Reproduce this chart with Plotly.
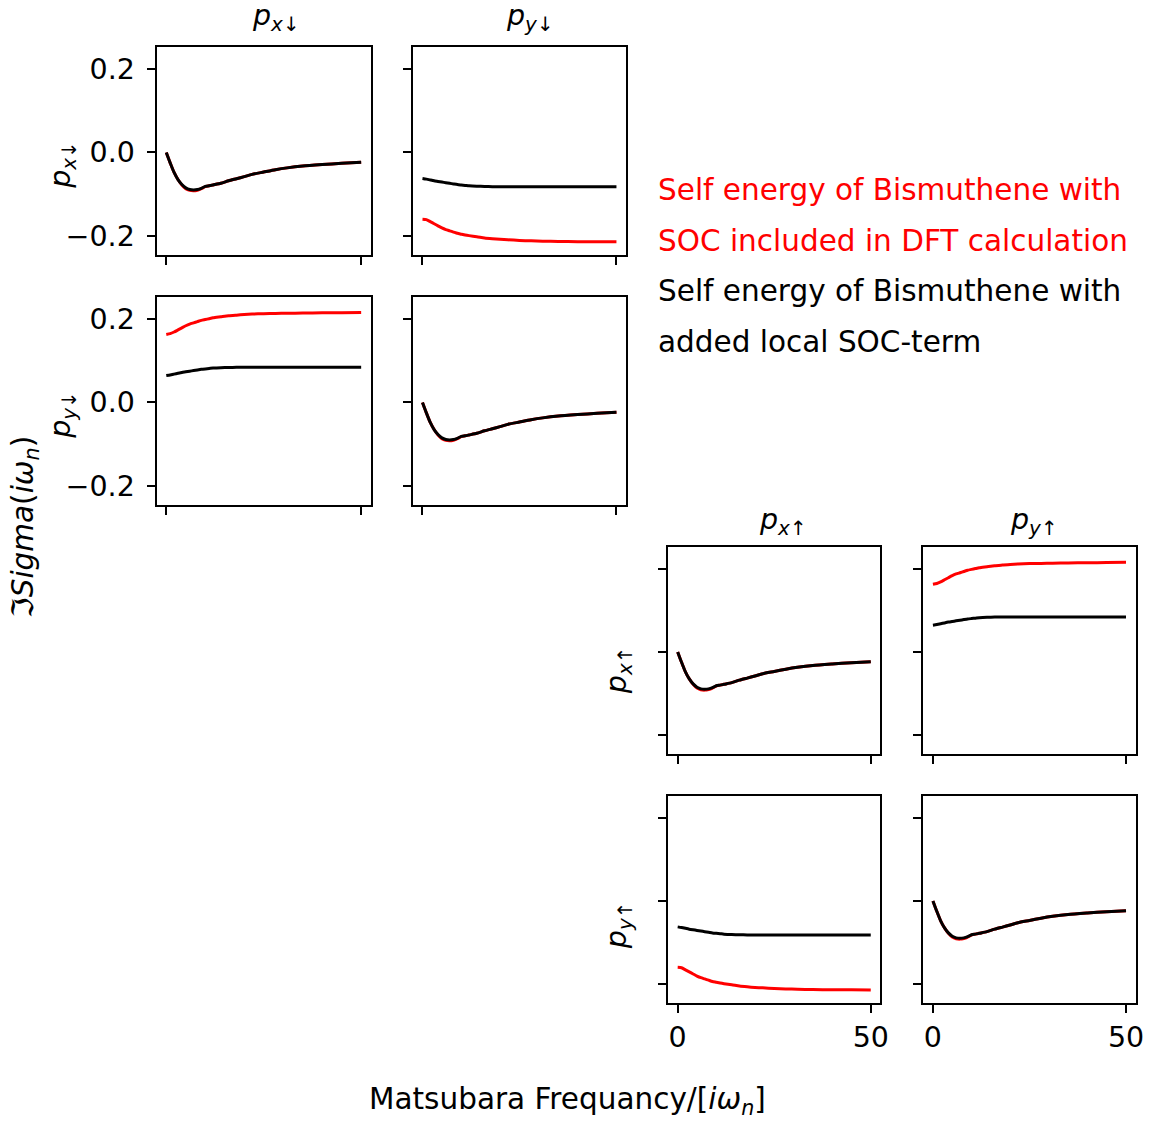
import plotly.graph_objects as go

# Matsubara frequency index
matsubara_n = [0, 1, 2, 3, 4, 5, 6, 7, 8, 9, 10, 11, 12, 14, 16, 18, 20, 22,
               25, 28, 31, 35, 40, 45, 50]

# Diagonal elements (p_x-p_x, p_y-p_y) of Im Sigma
diag_dft_soc = [0.000, -0.025, -0.048, -0.065, -0.078, -0.087, -0.091, -0.092,
                -0.0905, -0.087, -0.082, -0.080, -0.078, -0.074, -0.068, -0.063,
                -0.058, -0.0525, -0.047, -0.0415, -0.037, -0.0325, -0.029,
                -0.026, -0.0235]
diag_local_soc = [0.000, -0.025, -0.048, -0.065, -0.077, -0.085, -0.089, -0.090,
                  -0.089, -0.086, -0.0815, -0.080, -0.078, -0.074, -0.068, -0.063,
                  -0.058, -0.0525, -0.047, -0.0415, -0.037, -0.0325, -0.029,
                  -0.026, -0.0235]

# Off-diagonal elements with positive imaginary part
offdiag_pos_dft_soc = [0.163, 0.165, 0.169, 0.174, 0.179, 0.184, 0.188, 0.191,
                       0.194, 0.197, 0.199, 0.201, 0.203, 0.2055, 0.208, 0.2095,
                       0.211, 0.212, 0.213, 0.2135, 0.214, 0.2145, 0.215, 0.2155,
                       0.216]
offdiag_pos_local_soc = [0.0645, 0.066, 0.068, 0.070, 0.072, 0.0735, 0.075, 0.0765,
                         0.078, 0.0795, 0.0805, 0.0815, 0.0825, 0.0835, 0.084,
                         0.0843, 0.0845, 0.0845, 0.0845, 0.0845, 0.0845, 0.0845,
                         0.0845, 0.0845, 0.0845]

# Off-diagonal elements with negative imaginary part
offdiag_neg_dft_soc = [-0.160, -0.161, -0.166, -0.171, -0.176, -0.181, -0.185,
                       -0.188, -0.191, -0.194, -0.196, -0.198, -0.1995, -0.202,
                       -0.205, -0.207, -0.2085, -0.2095, -0.211, -0.212, -0.213,
                       -0.2135, -0.214, -0.2143, -0.2145]
offdiag_neg_local_soc = [-0.0625, -0.064, -0.066, -0.068, -0.0695, -0.071, -0.0725,
                         -0.074, -0.0755, -0.077, -0.078, -0.079, -0.080, -0.081,
                         -0.0815, -0.082, -0.082, -0.082, -0.082, -0.082, -0.082,
                         -0.082, -0.082, -0.082, -0.082]

y_tick_vals = [-0.2, 0.0, 0.2]
y_tick_text = ["\u22120.2", "0.0", "0.2"]
x_tick_vals = [0, 50]
x_tick_text = ["0", "50"]

orbital_down = ["<i>p</i><sub><i>x</i>\u2193</sub>", "<i>p</i><sub><i>y</i>\u2193</sub>"]
orbital_up = ["<i>p</i><sub><i>x</i>\u2191</sub>", "<i>p</i><sub><i>y</i>\u2191</sub>"]

W, H = 1158, 1122
XS = 1.004  # horizontal layout stretch
FONT = "DejaVu Sans"
FS = 28.5


def px_x(v):
    return v * XS / W


def px_y(v):
    return 1 - v / H


col_px = [(157, 372), (414, 628), (670, 883), (926, 1139)]
row_px = [(47, 255), (297, 505), (547, 754), (796, 1003)]

series = {
    "diag": (diag_dft_soc, diag_local_soc),
    "pos": (offdiag_pos_dft_soc, offdiag_pos_local_soc),
    "neg": (offdiag_neg_dft_soc, offdiag_neg_local_soc),
}

# (row, col, block kind)
panels = [
    (0, 0, "diag"), (0, 1, "neg"), (1, 0, "pos"), (1, 1, "diag"),
    (2, 2, "diag"), (2, 3, "pos"), (3, 2, "neg"), (3, 3, "diag"),
]

fig = go.Figure()
layout = {}
for i, (r, c, kind) in enumerate(panels, start=1):
    xa = "x" if i == 1 else f"x{i}"
    ya = "y" if i == 1 else f"y{i}"
    red_vals, black_vals = series[kind]
    fig.add_trace(go.Scatter(x=matsubara_n, y=red_vals, mode="lines",
                             line=dict(color="#ff0000", width=3, shape="spline", smoothing=0.6),
                             xaxis=xa, yaxis=ya, showlegend=False))
    fig.add_trace(go.Scatter(x=matsubara_n, y=black_vals, mode="lines",
                             line=dict(color="#000000", width=3, shape="spline", smoothing=0.6),
                             xaxis=xa, yaxis=ya, showlegend=False))
    x0, x1 = col_px[c]
    y0, y1 = row_px[r]
    common = dict(showline=True, linecolor="black", linewidth=2, mirror=True,
                  ticks="outside", ticklen=8, tickwidth=2, tickcolor="black",
                  showgrid=False, zeroline=False,
                  tickfont=dict(family=FONT, size=FS, color="black"))
    layout[f"xaxis{'' if i == 1 else i}"] = dict(
        common, domain=[px_x(x0), min(1.0, px_x(x1))], range=[-2.5, 52.5],
        anchor=ya, tickvals=x_tick_vals, ticktext=x_tick_text,
        showticklabels=(r == 3))
    layout[f"yaxis{'' if i == 1 else i}"] = dict(
        common, domain=[px_y(y1), px_y(y0)], range=[-0.246, 0.253],
        anchor=xa, tickvals=y_tick_vals, ticktext=y_tick_text,
        showticklabels=(c == 0), ticklabelstandoff=6)

annotations = []
font = dict(family=FONT, size=FS, color="black")

# column headings
col_title_x = [277, 532, 785, 1037]
for c, lbl in enumerate(orbital_down):
    annotations.append(dict(text=lbl, x=px_x(col_title_x[c]), y=px_y(18), xref="paper",
                            yref="paper", showarrow=False, font=font,
                            xanchor="center", yanchor="middle"))
for c, lbl in enumerate(orbital_up):
    annotations.append(dict(text=lbl, x=px_x(col_title_x[c + 2]), y=px_y(521), xref="paper",
                            yref="paper", showarrow=False, font=font,
                            xanchor="center", yanchor="middle"))

# row headings
row_title_y = [165, 415, 670, 925]
for r, lbl in enumerate(orbital_down):
    annotations.append(dict(text=lbl, x=px_x(62), y=px_y(row_title_y[r]), xref="paper",
                            yref="paper", showarrow=False, font=font, textangle=-90,
                            xanchor="center", yanchor="middle"))
for r, lbl in enumerate(orbital_up):
    annotations.append(dict(text=lbl, x=px_x(620), y=px_y(row_title_y[r + 2]), xref="paper",
                            yref="paper", showarrow=False, font=font, textangle=-90,
                            xanchor="center", yanchor="middle"))

# shared axis titles
annotations.append(dict(text="\u2111<i>Sigma</i>(<i>i\u03c9</i><sub><i>n</i></sub>)",
                        x=px_x(25), y=px_y(527), xref="paper", yref="paper",
                        showarrow=False, font=dict(family=FONT, size=29.5, color="black"),
                        textangle=-90, xanchor="center", yanchor="middle"))
annotations.append(dict(text="Matsubara Frequancy/[<i>i\u03c9</i><sub><i>n</i></sub>]",
                        x=px_x(569), y=px_y(1101), xref="paper", yref="paper",
                        showarrow=False, font=dict(family=FONT, size=29.5, color="black"),
                        xanchor="center", yanchor="middle"))

# legend text
legend_lines = [
    ("Self energy of Bismuthene with", "#ff0000", 190),
    ("SOC included in DFT calculation", "#ff0000", 241),
    ("Self energy of Bismuthene with", "#000000", 291),
    ("added local SOC-term", "#000000", 342),
]
for txt, col, ypx in legend_lines:
    annotations.append(dict(text=txt, x=px_x(658), y=px_y(ypx), xref="paper",
                            yref="paper", showarrow=False,
                            font=dict(family=FONT, size=29.5, color=col),
                            xanchor="left", yanchor="middle"))

fig.update_layout(width=W, height=H, margin=dict(l=0, r=0, t=0, b=0),
                  paper_bgcolor="white", plot_bgcolor="white",
                  annotations=annotations, **layout)

fig.write_html("out.html")
